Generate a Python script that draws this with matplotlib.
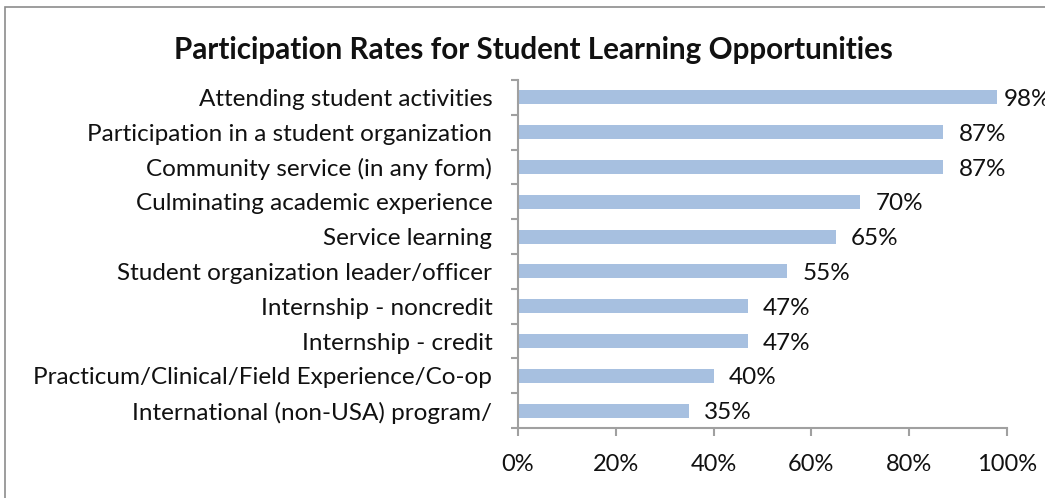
import matplotlib
matplotlib.use("Agg")
import matplotlib.pyplot as plt
from matplotlib.patches import Rectangle
import numpy as np

categories = [
    "Attending student activities",
    "Participation in a student organization",
    "Community service (in any form)",
    "Culminating academic experience",
    "Service learning",
    "Student organization leader/officer",
    "Internship - noncredit",
    "Internship - credit",
    "Practicum/Clinical/Field Experience/Co-op",
    "International (non-USA) program/",
]
values = [98, 87, 87, 70, 65, 55, 47, 47, 40, 35]
value_labels = ["98%", "87%", "87%", "70%", "65%", "55%", "47%", "47%", "40%", "35%"]
x_ticks = [0, 20, 40, 60, 80, 100]
x_tick_labels = ["0%", "20%", "40%", "60%", "80%", "100%"]
title = "Participation Rates for Student Learning Opportunities"

plt.rcParams['font.family'] = ['Lato', 'DejaVu Sans']

W, H = 1045, 498
fig = plt.figure(figsize=(W / 100, H / 100), dpi=100)
fig.patch.set_facecolor("white")

# outer border
fig.patches.append(Rectangle((5 / W, 0 - 0.01), 1.05, (H - 7) / H + 0.01,
                             transform=fig.transFigure, fill=False,
                             edgecolor="#8c8c8c", linewidth=1.2))

ax = fig.add_axes([518 / W, 1 - 428 / H, (1007 - 518) / W, (428 - 80) / H])
n = len(categories)
y = np.arange(n)
ax.barh(y, values, height=0.4, color="#a7c0e0", edgecolor="none")
ax.set_ylim(n - 0.5, -0.5)
ax.set_xlim(0, 100)

ax.set_yticks(y)
ax.set_yticklabels(categories, fontsize=17.5, color="#111111")
ax.set_yticks(np.arange(n + 1) - 0.5, minor=True)
ax.tick_params(axis="y", which="major", length=0, pad=18.5)
ax.tick_params(axis="y", which="minor", length=5, width=1.5, color="#a0a0a0", direction="out")

ax.set_xticks(x_ticks)
ax.set_xticklabels(x_tick_labels, fontsize=17, color="#111111")
ax.tick_params(axis="x", which="major", length=6, width=1.5, color="#a0a0a0", pad=13, direction="out")

for s in ["top", "right"]:
    ax.spines[s].set_visible(False)
for s in ["left", "bottom"]:
    ax.spines[s].set_color("#a0a0a0")
    ax.spines[s].set_linewidth(1.5)

for yi, v, lab in zip(y, values, value_labels):
    # labels near the right edge are pulled in, as in the original
    off = 5 if v >= 95 else 11
    ax.annotate(lab, (v, yi), xytext=(off, -1.5), textcoords="offset points",
                ha="left", va="center", fontsize=17.5, color="#111111",
                annotation_clip=False)

fig.text(533 / W, 1 - 50 / H, title, ha="center", va="center",
         fontsize=21.3, fontweight="bold", color="#111111")

fig.savefig("out.png", dpi=100, facecolor="white")
